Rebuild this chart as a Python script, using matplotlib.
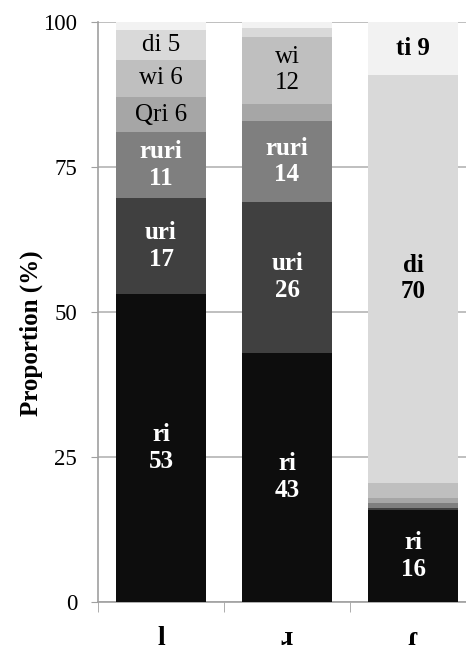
import matplotlib.pyplot as plt
import numpy as np

plt.rcParams['font.family'] = ['Liberation Serif', 'DejaVu Serif']

# categories on the x axis (IPA symbols)
sounds = ["l", "\u0279", "\u027e"]

# segment names, bottom to top
segments = ["ri", "uri", "ruri", "Qri", "wi", "di", "ti"]
colors = ["#0d0d0d", "#404040", "#7f7f7f", "#a6a6a6", "#bfbfbf", "#d9d9d9", "#f2f2f2"]

# proportions (%) for each segment in the three bars
ri = [53.1, 43.0, 15.9]
uri = [16.6, 26.0, 0.3]
ruri = [11.3, 13.9, 0.9]
Qri = [6.1, 3.0, 0.9]
wi = [6.4, 11.6, 2.6]
di = [5.1, 1.5, 70.3]
ti = [1.4, 1.0, 9.1]
values = [ri, uri, ruri, Qri, wi, di, ti]

# labels written in the segments ("" = no label)
labels = [
    ["ri\n53", "ri\n43", "ri\n16"],
    ["uri\n17", "uri\n26", ""],
    ["ruri\n11", "ruri\n14", ""],
    ["Qri 6", "", ""],
    ["wi 6", "wi\n12", ""],
    ["di 5", "", "di\n70"],
    ["", "", "ti 9"],
]
label_color = ["white", "white", "white", "black", "black", "black", "black"]

fig = plt.figure(figsize=(4.66, 6.55), dpi=100)
ax = fig.add_axes([98 / 466, 53 / 655, 1 - 98 / 466, 580 / 655])

x = np.arange(len(sounds))
bottom = np.zeros(len(sounds))
for i, seg in enumerate(segments):
    v = np.array(values[i])
    ax.bar(x, v, bottom=bottom, width=0.72, color=colors[i], zorder=3)
    for j in range(len(sounds)):
        txt = labels[i][j]
        if txt == "":
            continue
        # white labels and the third bar are bold
        if label_color[i] == "white" or j == 2:
            weight = "bold"
        else:
            weight = "normal"
        ax.text(x[j], bottom[j] + v[j] / 2, txt, ha="center", va="center",
                color=label_color[i], fontsize=18, fontweight=weight,
                linespacing=1.2, zorder=4)
    bottom += v

ax.set_ylim(0, 100)
ax.set_xlim(-0.5, 2.42)
ax.set_yticks([0, 25, 50, 75, 100])
ax.yaxis.grid(True, color="#b4b4b4", linewidth=1.2, zorder=0)
ax.set_axisbelow(True)

ax.set_xticks(x)
ax.set_xticklabels(sounds, fontsize=20, fontweight="bold")
ax.set_xticks([-0.5, 0.5, 1.5], minor=True)
ax.tick_params(axis="x", which="major", length=0, pad=17)
ax.tick_params(axis="x", which="minor", length=7, color="#a0a0a0", direction="out")
ax.tick_params(axis="y", length=5, color="#a0a0a0", labelsize=16.5, direction="out", pad=10)

for s in ["top", "right"]:
    ax.spines[s].set_visible(False)
for s in ["left", "bottom"]:
    ax.spines[s].set_color("#a0a0a0")
    ax.spines[s].set_linewidth(1.2)

ax.set_ylabel("Proportion (%)", fontsize=18, fontweight="bold")
ax.yaxis.set_label_coords(-0.15, 0.464)

fig.savefig("out.png", dpi=100)
